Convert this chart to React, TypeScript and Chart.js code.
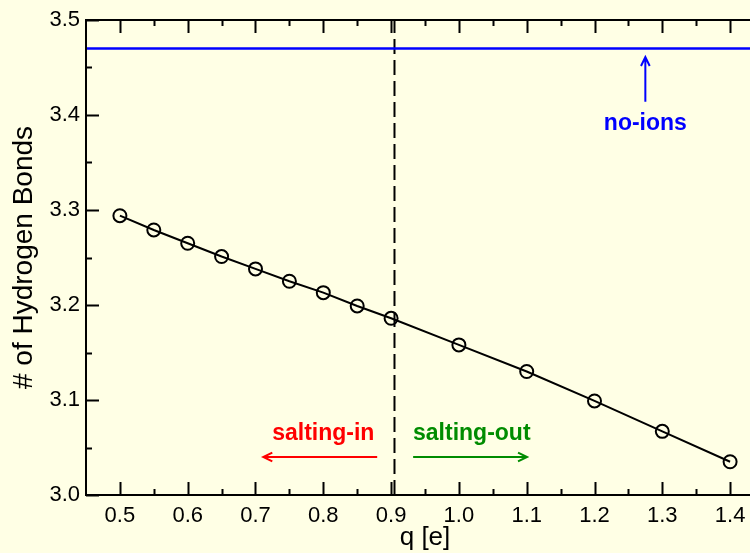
import React, { useEffect, useRef } from "react";
import { Chart, registerables } from "chart.js";

Chart.register(...registerables);

const qValues = [0.5, 0.55, 0.6, 0.65, 0.7, 0.75, 0.8, 0.85, 0.9, 1.0, 1.1, 1.2, 1.3, 1.4];
const hbValues = [3.294, 3.279, 3.265, 3.251, 3.238, 3.225, 3.213, 3.199, 3.186, 3.158, 3.130, 3.099, 3.067, 3.035];
const noIonsValue = 3.47;
const boundaryQ = 0.905;

const xMajorTicks = [0.5, 0.6, 0.7, 0.8, 0.9, 1.0, 1.1, 1.2, 1.3, 1.4];
const xMinorTicks = [0.55, 0.65, 0.75, 0.85, 0.95, 1.05, 1.15, 1.25, 1.35, 1.45];
const yMajorTicks = [3.0, 3.1, 3.2, 3.3, 3.4, 3.5];
const yMinorTicks = [3.05, 3.15, 3.25, 3.35, 3.45];

const FONT = '"Liberation Sans", Arial, Helvetica, sans-serif';
const BG = "#FFFFE5";

const framePlugin = {
  id: "frame",
  afterDatasetsDraw(chart: any) {
    const { ctx, chartArea: a, scales } = chart;
    const xs = scales.x;
    const ys = scales.y;
    ctx.save();
    ctx.strokeStyle = "#000";
    ctx.lineWidth = 2;
    ctx.beginPath();
    ctx.rect(a.left, a.top, a.right - a.left, a.bottom - a.top);
    ctx.stroke();
    const major = 13;
    const minor = 6;
    ctx.beginPath();
    xMajorTicks.forEach((v) => {
      const px = Math.round(xs.getPixelForValue(v)) + 0.5;
      ctx.moveTo(px, a.bottom); ctx.lineTo(px, a.bottom - major);
      ctx.moveTo(px, a.top); ctx.lineTo(px, a.top + major);
    });
    xMinorTicks.forEach((v) => {
      const px = Math.round(xs.getPixelForValue(v)) + 0.5;
      ctx.moveTo(px, a.bottom); ctx.lineTo(px, a.bottom - minor);
      ctx.moveTo(px, a.top); ctx.lineTo(px, a.top + minor);
    });
    yMajorTicks.forEach((v) => {
      const py = Math.round(ys.getPixelForValue(v)) + 0.5;
      ctx.moveTo(a.left, py); ctx.lineTo(a.left + major, py);
      ctx.moveTo(a.right, py); ctx.lineTo(a.right - major, py);
    });
    yMinorTicks.forEach((v) => {
      const py = Math.round(ys.getPixelForValue(v)) + 0.5;
      ctx.moveTo(a.left, py); ctx.lineTo(a.left + minor, py);
      ctx.moveTo(a.right, py); ctx.lineTo(a.right - minor, py);
    });
    ctx.stroke();

    const arrow = (x1: number, y1: number, x2: number, y2: number, color: string) => {
      ctx.strokeStyle = color;
      ctx.lineWidth = 2;
      ctx.beginPath();
      ctx.moveTo(x1, y1);
      ctx.lineTo(x2, y2);
      const ang = Math.atan2(y2 - y1, x2 - x1);
      const L = 10;
      const w = 0.45;
      ctx.moveTo(x2 - L * Math.cos(ang - w), y2 - L * Math.sin(ang - w));
      ctx.lineTo(x2, y2);
      ctx.lineTo(x2 - L * Math.cos(ang + w), y2 - L * Math.sin(ang + w));
      ctx.stroke();
    };
    const text = (s: string, x: number, y: number, color: string) => {
      ctx.fillStyle = color;
      ctx.font = `bold 23px ${FONT}`;
      ctx.textAlign = "center";
      ctx.textBaseline = "middle";
      ctx.fillText(s, x, y);
    };

    // no-ions
    arrow(xs.getPixelForValue(1.275), ys.getPixelForValue(3.414), xs.getPixelForValue(1.275), ys.getPixelForValue(3.461), "#0000FF");
    text("no-ions", xs.getPixelForValue(1.275), ys.getPixelForValue(3.391), "#0000FF");
    // salting-in
    text("salting-in", xs.getPixelForValue(0.8), ys.getPixelForValue(3.065), "#FF0000");
    arrow(xs.getPixelForValue(0.8795), ys.getPixelForValue(3.04), xs.getPixelForValue(0.7115), ys.getPixelForValue(3.04), "#FF0000");
    // salting-out
    text("salting-out", xs.getPixelForValue(1.019), ys.getPixelForValue(3.065), "#008C00");
    arrow(xs.getPixelForValue(0.9325), ys.getPixelForValue(3.04), xs.getPixelForValue(1.1005), ys.getPixelForValue(3.04), "#008C00");
    ctx.restore();
  },
};

export default function App() {
  const ref = useRef<HTMLCanvasElement | null>(null);
  useEffect(() => {
    if (!ref.current) return;
    const chart = new Chart(ref.current, {
      type: "line",
      data: {
        datasets: [
          {
            data: [
              { x: 0.45, y: noIonsValue },
              { x: 1.45, y: noIonsValue },
            ],
            borderColor: "#0000FF",
            borderWidth: 2.5,
            pointRadius: 0,
          },
          {
            data: [
              { x: boundaryQ, y: 3.0 },
              { x: boundaryQ, y: 3.5 },
            ],
            borderColor: "#000",
            borderWidth: 2,
            borderDash: [15, 6],
            pointRadius: 0,
          },
          {
            data: qValues.map((q, i) => ({ x: q, y: hbValues[i] })),
            borderColor: "#000",
            borderWidth: 2,
            pointRadius: 6.5,
            pointBorderWidth: 2,
            pointBorderColor: "#000",
            pointBackgroundColor: "rgba(0,0,0,0)",
            tension: 0,
          },
        ],
      },
      options: {
        responsive: false,
        animation: false,
        events: [],
        layout: { padding: { top: 20, right: 16, left: 0, bottom: 0 } },
        plugins: { legend: { display: false }, tooltip: { enabled: false } },
        scales: {
          x: {
            type: "linear",
            min: 0.45,
            max: 1.45,
            afterBuildTicks: (s: any) => {
              s.ticks = xMajorTicks.map((v) => ({ value: v }));
            },
            afterFit: (s: any) => {
              s.height = 58;
            },
            grid: { display: false, drawTicks: false },
            border: { display: false },
            ticks: {
              color: "#000",
              font: { family: FONT, size: 22 },
              padding: 8,
              maxRotation: 0,
              autoSkip: false,
              callback: (v: any) => Number(v).toFixed(1),
            },
            title: {
              display: true,
              text: "q [e]",
              color: "#000",
              font: { family: FONT, size: 26 },
              padding: { top: 0, bottom: 0 },
            },
          },
          y: {
            type: "linear",
            min: 3.0,
            max: 3.5,
            afterBuildTicks: (s: any) => {
              s.ticks = yMajorTicks.map((v) => ({ value: v }));
            },
            afterFit: (s: any) => {
              s.width = 86;
            },
            grid: { display: false, drawTicks: false },
            border: { display: false },
            ticks: {
              color: "#000",
              font: { family: FONT, size: 22 },
              padding: 6,
              autoSkip: false,
              callback: (v: any) => Number(v).toFixed(1),
            },
            title: {
              display: true,
              text: "# of Hydrogen Bonds",
              color: "#000",
              font: { family: FONT, size: 28 },
              padding: { top: 7, bottom: 0 },
            },
          },
        },
      },
      plugins: [framePlugin],
    });
    return () => chart.destroy();
  }, []);
  return (
    <div
      style={{
        position: "fixed",
        left: 0,
        top: 0,
        width: 750,
        height: 553,
        overflow: "hidden",
        background: BG,
      }}
    >
      <canvas ref={ref} width={780} height={553} style={{ display: "block" }} />
    </div>
  );
}
